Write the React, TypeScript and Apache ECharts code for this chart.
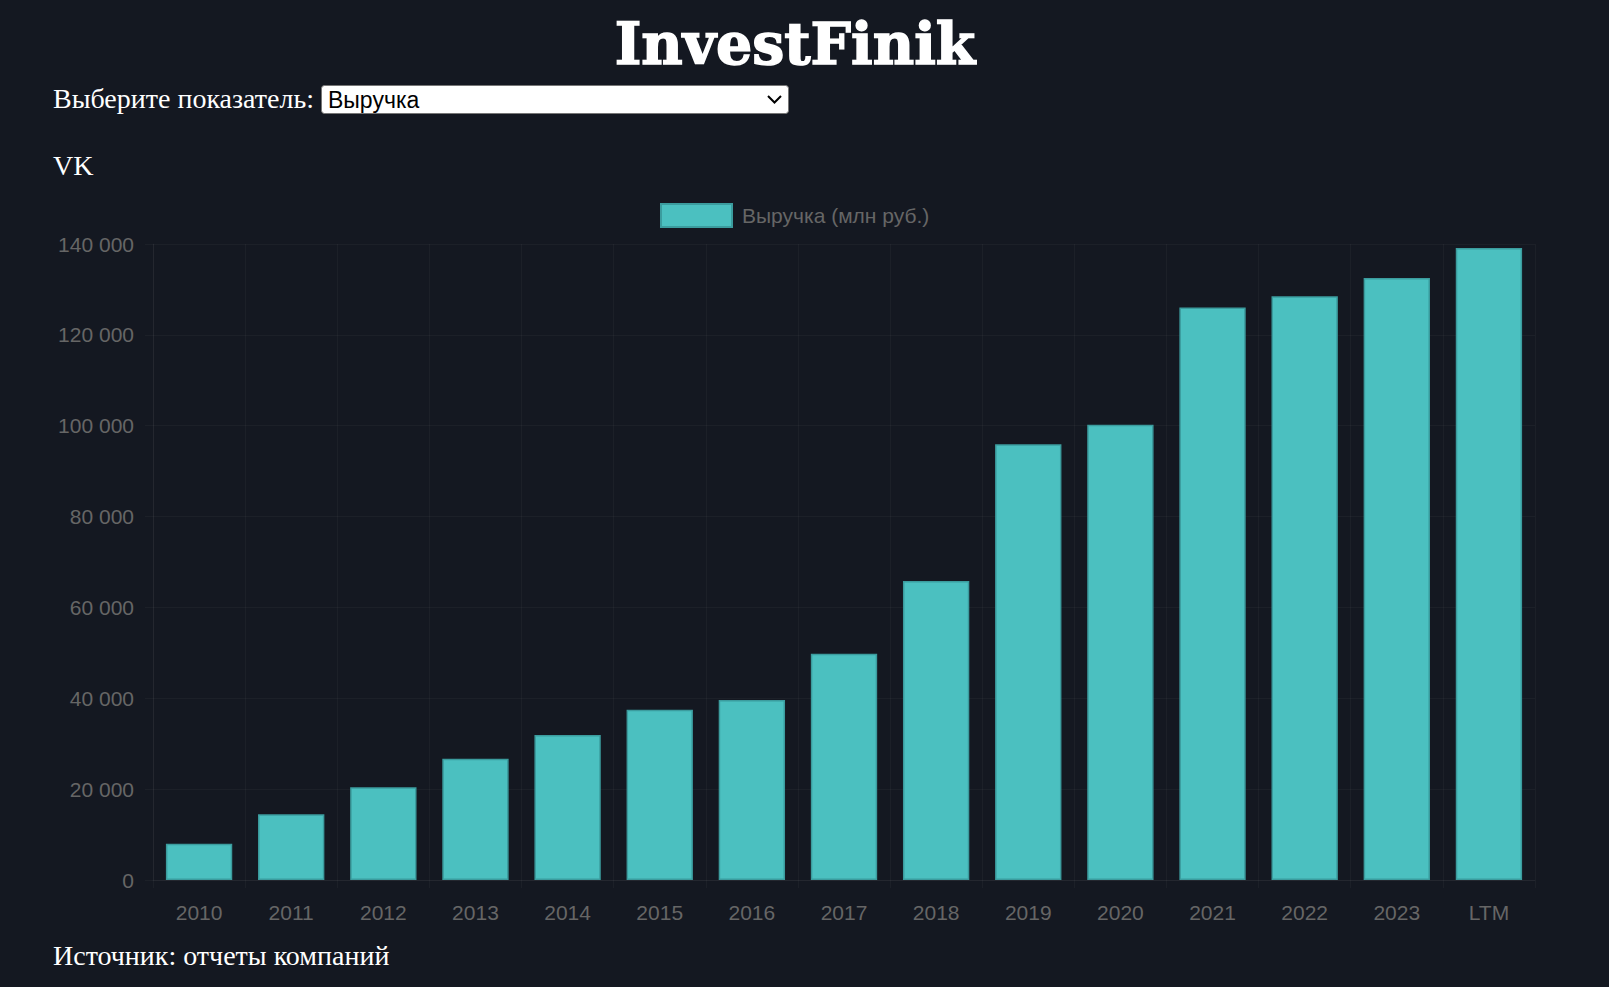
import React, { useEffect, useRef } from "react";
import * as echarts from "echarts";

const categories = ["2010", "2011", "2012", "2013", "2014", "2015", "2016", "2017", "2018", "2019", "2020", "2021", "2022", "2023", "LTM"];
const revenue = [8000, 14500, 20400, 26700, 31900, 37500, 39600, 49800, 65800, 95900, 100200, 126000, 128500, 132500, 139100];
const yMin = 0;
const yMax = 140000;
const yStep = 20000;

const seriesName = "Выручка (млн руб.)";
const pageTitle = "InvestFinik";
const selectLabel = "Выберите показатель:";
const selectValue = "Выручка";
const companyName = "VK";
const sourceNote = "Источник: отчеты компаний";

const BG = "#141821";
const GRID = "rgba(255,255,255,0.035)";
const TICK_TEXT = "#666666";

const fmt = (v: number) => String(v).replace(/\B(?=(\d{3})+(?!\d))/g, " ");

export default function App() {
  const ref = useRef<HTMLDivElement>(null);

  useEffect(() => {
    document.body.style.margin = "0";
    document.body.style.background = BG;
    if (!ref.current) return;
    const chart = echarts.init(ref.current, null, { renderer: "svg" });
    const serif = "'Liberation Serif', 'Times New Roman', serif";
    const sans = "'Liberation Sans', Arial, sans-serif";
    chart.setOption({
      animation: false,
      backgroundColor: BG,
      legend: {
        show: true,
        left: 660,
        top: 203,
        padding: 0,
        itemWidth: 71,
        itemHeight: 23,
        icon: "rect",
        textStyle: { color: TICK_TEXT, fontSize: 21, fontFamily: sans, padding: [0, 0, 0, 5] },
        data: [seriesName],
      },
      grid: { left: 153, right: 74, top: 244, bottom: 107, containLabel: false },
      xAxis: {
        type: "category",
        data: categories,
        boundaryGap: true,
        axisLine: { show: true, lineStyle: { color: GRID, width: 1 } },
        axisTick: { show: true, length: 8, lineStyle: { color: GRID } },
        splitLine: { show: true, lineStyle: { color: GRID, width: 1 } },
        axisLabel: { color: TICK_TEXT, fontSize: 21, fontFamily: sans, margin: 22 },
      },
      yAxis: {
        type: "value",
        min: yMin,
        max: yMax,
        interval: yStep,
        axisLine: { show: true, lineStyle: { color: GRID, width: 1 } },
        axisTick: { show: true, length: 8, lineStyle: { color: GRID } },
        splitLine: { show: true, lineStyle: { color: GRID, width: 1 } },
        axisLabel: { color: TICK_TEXT, fontSize: 21, fontFamily: sans, margin: 19, formatter: (v: number) => fmt(v) },
      },
      series: [
        {
          name: seriesName,
          type: "bar",
          data: revenue,
          barWidth: "72%",
          itemStyle: { color: "#4bc0c0", borderColor: "#3b9c9e", borderWidth: 1.5 },
        },
      ],
      graphic: [
        {
          type: "text",
          x: 795,
          y: 43,
          style: {
            text: pageTitle,
            fill: "#ffffff",
            stroke: "#ffffff",
            lineWidth: 1.5,
            font: "bold 57px 'DejaVu Serif', serif",
            align: "center",
            verticalAlign: "middle",
          },
        },
        {
          type: "text",
          x: 53,
          y: 98,
          style: { text: selectLabel, fill: "#ffffff", font: `28px ${serif}`, verticalAlign: "middle" },
        },
        {
          type: "rect",
          shape: { x: 321.5, y: 85.5, width: 467, height: 28, r: 3 },
          style: { fill: "#ffffff", stroke: "#767676", lineWidth: 1 },
        },
        {
          type: "text",
          x: 328,
          y: 99.5,
          style: { text: selectValue, fill: "#000000", font: `23px ${sans}`, verticalAlign: "middle" },
        },
        {
          type: "polyline",
          shape: { points: [[768, 96], [774.5, 102.5], [781, 96]] },
          style: { stroke: "#000000", lineWidth: 2, fill: "none" },
        },
        {
          type: "text",
          x: 53,
          y: 165,
          style: { text: companyName, fill: "#ffffff", font: `28px ${serif}`, verticalAlign: "middle" },
        },
        {
          type: "text",
          x: 53,
          y: 955,
          style: { text: sourceNote, fill: "#ffffff", font: `28px ${serif}`, verticalAlign: "middle" },
        },
      ],
    });
    return () => chart.dispose();
  }, []);

  return (
    <div
      ref={ref}
      style={{ position: "fixed", left: 0, top: 0, width: "1609px", height: "987px", background: BG }}
    />
  );
}
